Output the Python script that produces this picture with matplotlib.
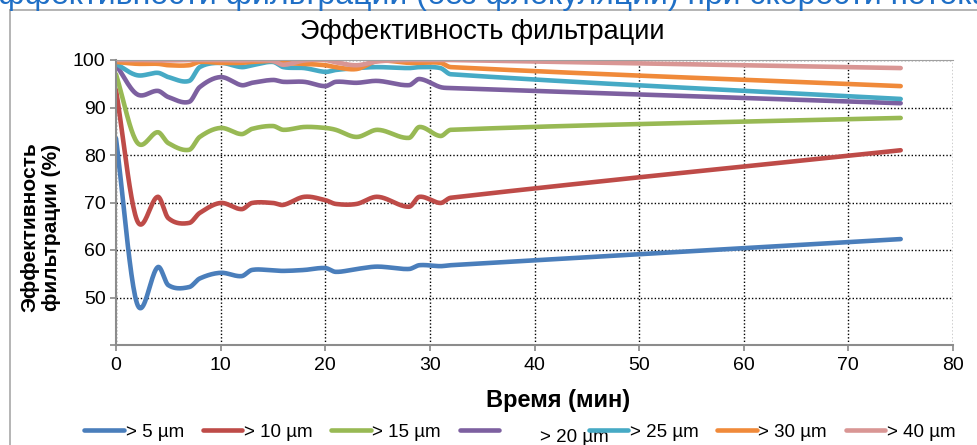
import numpy as np
import matplotlib
matplotlib.use("Agg")
from matplotlib import pyplot as plt
from matplotlib.lines import Line2D

plt.rcParams['font.family'] = ['Liberation Sans', 'DejaVu Sans']

# time (min)
t = [0, 2, 4, 5, 7, 8, 10, 12, 13, 15, 16, 18, 20, 21, 23, 25, 28, 29, 31, 32, 75]

gt5 = [83.5, 48.8, 56.4, 52.6, 52.2, 54.0, 55.2, 54.5, 55.8, 55.7, 55.6, 55.8, 56.2, 55.4, 56.0, 56.5, 56.0, 56.8, 56.6, 56.8, 62.3]
gt10 = [93.7, 66.3, 71.2, 66.7, 65.7, 67.8, 69.9, 68.6, 69.9, 69.9, 69.5, 71.2, 70.5, 69.7, 69.7, 71.2, 69.1, 71.2, 69.9, 71.0, 81.0]
gt15 = [97.0, 82.7, 84.8, 82.5, 81.1, 83.8, 85.7, 84.4, 85.5, 86.1, 85.3, 85.9, 85.7, 85.3, 83.8, 85.3, 83.6, 85.9, 84.0, 85.3, 87.8]
gt20 = [99.0, 92.8, 93.5, 92.2, 91.2, 94.3, 96.4, 94.7, 95.2, 95.8, 95.4, 95.4, 94.5, 95.4, 95.2, 95.6, 94.7, 96.0, 94.3, 94.1, 90.9]
gt25 = [99.2, 96.8, 97.3, 96.4, 95.6, 98.5, 99.4, 98.5, 98.9, 99.6, 98.5, 98.3, 97.5, 97.9, 98.3, 98.5, 98.3, 98.5, 98.3, 97.0, 91.8]
gt30 = [99.6, 99.2, 99.2, 98.9, 98.9, 99.6, 99.4, 99.4, 99.6, 99.8, 99.4, 99.2, 98.9, 98.5, 98.1, 99.8, 99.4, 99.4, 99.4, 98.5, 94.5]
gt40 = [100, 100, 99.9, 99.9, 100, 100, 100, 99.9, 100, 99.8, 99.0, 99.9, 100, 99.5, 98.9, 99.7, 100, 100, 100, 100, 98.3]

labels = ['> 5 µm', '> 10 µm', '> 15 µm', '> 20 µm', '> 25 µm', '> 30 µm', '> 40 µm']
colors = ['#4A7EBB', '#BE4B48', '#98B954', '#7D60A0', '#46AAC5', '#F08A3A', '#D99694']


def smooth(x, y, n=24):
    # smoothed line like excel, tangents scaled per segment so it never loops back
    x = np.asarray(x, float)
    y = np.asarray(y, float)
    m = np.zeros_like(y)
    m[0] = (y[1] - y[0]) / (x[1] - x[0])
    m[-1] = (y[-1] - y[-2]) / (x[-1] - x[-2])
    for i in range(1, len(x) - 1):
        m[i] = (y[i + 1] - y[i - 1]) / (x[i + 1] - x[i - 1])
    xs, ys = [x[0]], [y[0]]
    for i in range(len(x) - 1):
        dx = x[i + 1] - x[i]
        s = np.linspace(0, 1, n)[1:]
        h00 = 2 * s**3 - 3 * s**2 + 1
        h10 = s**3 - 2 * s**2 + s
        h01 = -2 * s**3 + 3 * s**2
        h11 = s**3 - s**2
        xs.extend(x[i] + s * dx)
        ys.extend(h00 * y[i] + h10 * dx * m[i] + h01 * y[i + 1] + h11 * dx * m[i + 1])
    return np.array(xs), np.array(ys)


fig = plt.figure(figsize=(9.77, 4.45), dpi=100)
ax = fig.add_axes([116 / 977, 1 - 345 / 445, (953 - 116) / 977, 285 / 445])

for ys, c, lab in zip([gt5, gt10, gt15, gt20, gt25, gt30, gt40], colors, labels):
    xs, yy = smooth(t, ys)
    ax.plot(xs, yy, color=c, lw=3.3, label=lab, solid_capstyle='round')

ax.set_xlim(0, 80)
ax.set_ylim(40, 100)
ax.set_xticks(range(0, 81, 10))
ax.set_yticks(range(40, 101, 10))
ax.set_yticklabels(['', '50', '60', '70', '80', '90', '100'])
ax.grid(True, color='black', linestyle=(0, (1, 1.5)), lw=1)
ax.tick_params(labelsize=14, length=4, color='#888888', width=1.2)
ax.tick_params(axis='x', pad=5)
for s in ['left', 'bottom']:
    ax.spines[s].set_color('#8c8c8c')
    ax.spines[s].set_linewidth(1.5)
ax.spines['top'].set_color('#a0a0a0')
ax.spines['right'].set_visible(False)

ax.set_xlabel('Время (мин)', fontsize=17, fontweight='bold')
ax.xaxis.set_label_coords((558 - 116) / 837, -(400 - 345) / 285)
ax.xaxis.label.set_va('center')
ax.set_ylabel('Эффективность\nфильтрации (%)', fontsize=15, fontweight='bold',
              linespacing=1.15)
ax.yaxis.set_label_coords(-0.066, 0.414)

fig.text(482 / 977, 1 - 32 / 445, 'Эффективность фильтрации', fontsize=19.5,
         ha='center', va='center')

# blue heading from the slide, cut off at the top
fig.text(-18 / 977, 1 - 4 / 445, 'эффективности фильтрации (без флокуляции) при скорости потока',
         fontsize=23, color='#1F6FC6', ha='left', va='baseline')

# chart frame
fig.add_artist(Line2D([10 / 977, 10 / 977], [0, 1 - 10 / 445], color='#a8a8a8', lw=1.2))
fig.add_artist(Line2D([10 / 977, 1], [1 - 10 / 445, 1 - 10 / 445], color='#a8a8a8', lw=1.2))

handles = ax.get_lines()
leg = fig.legend(handles, labels, loc='center', ncol=7, frameon=False,
                 bbox_to_anchor=(520 / 977, 1 - 432 / 445), fontsize=13.5,
                 handlelength=2.1, handletextpad=0.1, columnspacing=1.0)
leg.get_texts()[3].set_alpha(0)
fig.text(540 / 977, 1 - 437 / 445, labels[3], fontsize=13.5, ha='left', va='center')

fig.savefig('out.png', dpi=100)
